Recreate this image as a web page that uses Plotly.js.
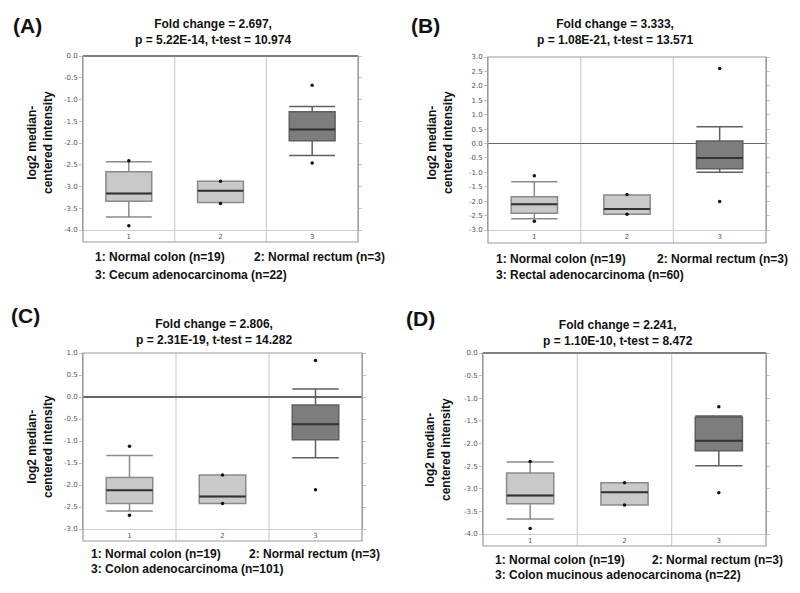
<!DOCTYPE html>
<html><head><meta charset="utf-8">
<script src="https://cdn.plot.ly/plotly-3.0.1.min.js"></script>
<style>html,body{margin:0;padding:0;background:#fff}</style>
</head><body><div id="chart" style="width:800px;height:593px"></div>
<script>
// ---------- data ----------
const categories = [1, 2, 3];
const tickLabels = ['1', '2', '3'];
const panelLetters = ['(A)', '(B)', '(C)', '(D)'];
const foldChange = ['2.697', '3.333', '2.806', '2.241'];
const pValue = ['5.22E-14', '1.08E-21', '2.31E-19', '1.10E-10'];
const tTest = ['10.974', '13.571', '14.282', '8.472'];
const group1Name = 'Normal colon';
const group1N = 19;
const group2Name = 'Normal rectum';
const group2N = 3;
const group3Names = ['Cecum adenocarcinoma', 'Rectal adenocarcinoma', 'Colon adenocarcinoma', 'Colon mucinous adenocarcinoma'];
const group3N = [22, 60, 101, 22];
const yTitle = 'log2 median-<br>centered intensity';

// y tick values per panel
const yTicksA = [0, -0.5, -1, -1.5, -2, -2.5, -3, -3.5, -4];
const yTicksB = [3, 2.5, 2, 1.5, 1, 0.5, 0, -0.5, -1, -1.5, -2, -2.5, -3];
const yTicksC = [1, 0.5, 0, -0.5, -1, -1.5, -2, -2.5, -3];
const yTicksD = [0, -0.5, -1, -1.5, -2, -2.5, -3, -3.5, -4];

// Panel A
const lowerA = [-3.70, -3.37, -2.29];
const q1A = [-3.34, -3.37, -1.95];
const medianA = [-3.16, -3.10, -1.69];
const q3A = [-2.66, -2.88, -1.28];
const upperA = [-2.43, -2.88, -1.16];
const pointsA = [[-2.41, -3.90], [-2.88, -3.39], [-0.67, -2.46]];
// Panel B
const lowerB = [-2.61, -2.45, -1.00];
const q1B = [-2.42, -2.45, -0.88];
const medianB = [-2.11, -2.27, -0.50];
const q3B = [-1.85, -1.79, 0.09];
const upperB = [-1.33, -1.79, 0.58];
const pointsB = [[-1.12, -2.70], [-1.77, -2.45], [2.60, -2.01]];
// Panel C
const lowerC = [-2.59, -2.42, -1.38];
const q1C = [-2.42, -2.42, -0.97];
const medianC = [-2.12, -2.26, -0.62];
const q3C = [-1.83, -1.77, -0.18];
const upperC = [-1.33, -1.77, 0.18];
const pointsC = [[-1.12, -2.69], [-1.77, -2.42], [0.83, -2.11]];
// Panel D
const lowerD = [-3.67, -3.36, -2.49];
const q1D = [-3.33, -3.36, -2.16];
const medianD = [-3.15, -3.08, -1.94];
const q3D = [-2.65, -2.87, -1.42];
const upperD = [-2.41, -2.87, -1.39];
const pointsD = [[-2.40, -3.88], [-2.87, -3.36], [-1.19, -3.09]];

const yRanges = [[-4, 0], [-3, 3], [-3, 1], [-4, 0]];

// ---------- layout geometry (pixels) ----------
const W = 800, H = 593;
const geo = [
  {l: 83, r: 358, t: 56, b: 230, band: 12, letter: [27, 25], title: [213, 32], ytl: [40, 143], leg: [93, 252, 257, 275]},
  {l: 488, r: 766, t: 57, b: 230, band: 13, letter: [425, 25], title: [615, 32], ytl: [440, 143], leg: [494, 655, 259, 275]},
  {l: 83, r: 362, t: 353, b: 529, band: 12, letter: [25, 315], title: [214, 332], ytl: [40, 447], leg: [89, 247, 554, 569]},
  {l: 483, r: 766, t: 353, b: 534, band: 12, letter: [420, 318], title: [618, 333], ytl: [438, 450], leg: [493, 650, 560, 575]}
];
const px = x => x / W;
const py = y => 1 - y / H;

const panels = [
  {lower: lowerA, q1: q1A, med: medianA, q3: q3A, upper: upperA, pts: pointsA, ticks: yTicksA},
  {lower: lowerB, q1: q1B, med: medianB, q3: q3B, upper: upperB, pts: pointsB, ticks: yTicksB},
  {lower: lowerC, q1: q1C, med: medianC, q3: q3C, upper: upperC, pts: pointsC, ticks: yTicksC},
  {lower: lowerD, q1: q1D, med: medianD, q3: q3D, upper: upperD, pts: pointsD, ticks: yTicksD}
];

const traces = [];
const layout = {
  width: W, height: H, margin: {l: 0, r: 0, t: 0, b: 0},
  paper_bgcolor: '#fff', plot_bgcolor: '#fff', showlegend: false,
  annotations: [], shapes: []
};
const tickFont = {family: 'DejaVu Sans', size: 7, color: '#555'};
const txtFont = (s) => ({family: 'Liberation Sans, Arial', size: s, color: '#111', weight: 'bold'});
const boxW = 0.5;

panels.forEach((p, i) => {
  const k = i + 1;
  const xa = 'x' + (k === 1 ? '' : k), ya = 'y' + (k === 1 ? '' : k);
  const g = geo[i];
  const lightIdx = [0, 1], darkIdx = [2];
  const mk = (idx, fill, line) => ({
    type: 'box', xaxis: xa, yaxis: ya,
    x: idx.map(j => categories[j]),
    q1: idx.map(j => p.q1[j]), median: idx.map(j => p.med[j]), q3: idx.map(j => p.q3[j]),
    lowerfence: idx.map(j => p.lower[j]), upperfence: idx.map(j => p.upper[j]),
    width: boxW, whiskerwidth: 1, boxpoints: false,
    fillcolor: fill, line: {color: line, width: 1.5}, hoverinfo: 'skip'
  });
  traces.push(mk(lightIdx, '#c9c9c9', '#8a8a8a'));
  traces.push(mk(darkIdx, '#7d7d7d', '#5f5f5f'));
  // median lines
  const mx = [], my = [];
  categories.forEach((c, j) => { mx.push(c - boxW / 2, c + boxW / 2, null); my.push(p.med[j], p.med[j], null); });
  traces.push({type: 'scatter', mode: 'lines', xaxis: xa, yaxis: ya, x: mx, y: my,
    line: {color: '#333', width: 2}, hoverinfo: 'skip'});
  // points
  const ptx = [], pty = [];
  p.pts.forEach((arr, j) => arr.forEach(v => { ptx.push(categories[j]); pty.push(v); }));
  traces.push({type: 'scatter', mode: 'markers', xaxis: xa, yaxis: ya, x: ptx, y: pty,
    marker: {color: '#111', size: 3.5}, hoverinfo: 'skip'});

  layout['xaxis' + (k === 1 ? '' : k)] = {
    domain: [px(g.l), px(g.r)], anchor: ya, range: [0.5, 3.5],
    tickmode: 'array', tickvals: categories, ticktext: tickLabels, tickfont: tickFont,
    showgrid: false, zeroline: false, showline: true, linecolor: '#cccccc', linewidth: 1,
    ticks: '', fixedrange: true
  };
  layout['yaxis' + (k === 1 ? '' : k)] = {
    domain: [py(g.b), py(g.t)], anchor: xa, range: yRanges[i],
    tickmode: 'array', tickvals: p.ticks, ticktext: p.ticks.map(v => v.toFixed(1)),
    tickfont: tickFont, showgrid: false,
    zeroline: true, zerolinecolor: '#666', zerolinewidth: 1.5,
    showline: true, linecolor: '#a0a0a0', linewidth: 1, mirror: 'ticks',
    ticks: 'outside', ticklen: 3, tickcolor: '#c0c0c0', fixedrange: true
  };
  const bandFrac = g.band / (g.b - g.t);
  // frame incl. tick-label band
  layout.shapes.push({type: 'rect', xref: xa + ' domain', yref: ya + ' domain',
    x0: 0, x1: 1, y0: -bandFrac, y1: 1, line: {color: '#9a9a9a', width: 1.2}, layer: 'above'});
  // category separators
  for (let j = 0; j < categories.length - 1; j++) {
    const xm = (categories[j] + categories[j + 1]) / 2;
    layout.shapes.push({type: 'line', xref: xa, yref: ya + ' domain',
      x0: xm, x1: xm, y0: -bandFrac, y1: 1, line: {color: '#cfcfcf', width: 1.2}, layer: 'below'});
  }
  // texts
  layout.annotations.push({xref: 'paper', yref: 'paper', x: px(g.letter[0]), y: py(g.letter[1]),
    text: panelLetters[i], showarrow: false, font: txtFont(21), xanchor: 'center', yanchor: 'middle'});
  layout.annotations.push({xref: 'paper', yref: 'paper', x: px(g.title[0]), y: py(g.title[1]),
    text: 'Fold change = ' + foldChange[i] + ',<br>p = ' + pValue[i] + ', t-test = ' + tTest[i],
    showarrow: false, font: txtFont(12), xanchor: 'center', yanchor: 'middle', align: 'center'});
  layout.annotations.push({xref: 'paper', yref: 'paper', x: px(g.ytl[0]), y: py(g.ytl[1]),
    text: yTitle, textangle: -90, showarrow: false, font: txtFont(12), xanchor: 'center', yanchor: 'middle', align: 'center'});
  layout.annotations.push({xref: 'paper', yref: 'paper', x: px(g.leg[0]), y: py(g.leg[2]),
    text: tickLabels[0] + ': ' + group1Name + ' (n=' + group1N + ')', showarrow: false, font: txtFont(12), xanchor: 'left', yanchor: 'middle'});
  layout.annotations.push({xref: 'paper', yref: 'paper', x: px(g.leg[1]), y: py(g.leg[2]),
    text: tickLabels[1] + ': ' + group2Name + ' (n=' + group2N + ')', showarrow: false, font: txtFont(12), xanchor: 'left', yanchor: 'middle'});
  layout.annotations.push({xref: 'paper', yref: 'paper', x: px(g.leg[0]), y: py(g.leg[3]),
    text: tickLabels[2] + ': ' + group3Names[i] + ' (n=' + group3N[i] + ')', showarrow: false, font: txtFont(12), xanchor: 'left', yanchor: 'middle'});
});

Plotly.newPlot('chart', traces, layout, {staticPlot: true, displayModeBar: false});
</script>
</body></html>
